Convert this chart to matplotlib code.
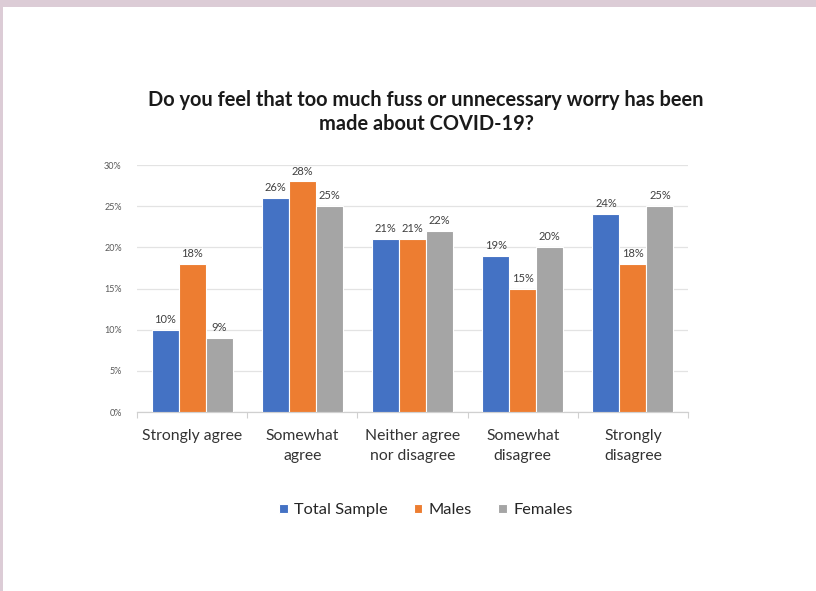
import matplotlib
matplotlib.use("Agg")
import matplotlib.pyplot as plt
from matplotlib.patches import Rectangle
import numpy as np

categories = ["Strongly agree", "Somewhat\nagree", "Neither agree\nnor disagree",
              "Somewhat\ndisagree", "Strongly\ndisagree"]
series_names = ["Total Sample", "Males", "Females"]
total_sample = [10, 26, 21, 19, 24]
males = [18, 28, 21, 15, 18]
females = [9, 25, 22, 20, 25]
y_ticks = [0, 5, 10, 15, 20, 25, 30]
title = "Do you feel that too much fuss or unnecessary worry has been\nmade about COVID-19?"

colors = ["#4472C4", "#ED7D31", "#A5A5A5"]
font = ["Lato", "DejaVu Sans"]
plt.rcParams["font.family"] = font

W, H = 816, 591
fig = plt.figure(figsize=(W / 100, H / 100), dpi=100)
fig.patch.set_facecolor("#dcccd6")
# white card on top of the tinted backdrop
card = Rectangle((3 / W, 0), 1, 1 - 7 / H, transform=fig.transFigure,
                 facecolor="white", edgecolor="none", zorder=-10)
fig.add_artist(card)

ax = fig.add_axes([137 / W, 1 - 412 / H, (688 - 137) / W, (412 - 165) / H])
ax.set_facecolor("none")
ax.set_zorder(5)

x = np.arange(len(categories))
bw = 0.245
for i, (vals, col) in enumerate(zip([total_sample, males, females], colors)):
    pos = x + (i - 1) * bw
    ax.bar(pos, vals, width=bw, color=col, edgecolor="white", linewidth=0.8,
           label=series_names[i], zorder=3)
    for p, v in zip(pos, vals):
        ax.text(p, v + 0.6, f"{v}%", ha="center", va="bottom", fontsize=8,
                color="#404040", zorder=4)

ax.set_xlim(-0.5, len(categories) - 0.5)
ax.set_ylim(0, 30)
ax.set_yticks(y_ticks)
ax.set_yticklabels([f"{t}%" for t in y_ticks], fontsize=6.5, color="#595959")
ax.yaxis.grid(True, color="#e3e3e3", linewidth=0.9, zorder=0)
ax.tick_params(axis="y", length=0, pad=11)

ax.set_xticks(x)
ax.set_xticklabels(categories, fontsize=11.3, color="#333333", linespacing=1.55)
ax.tick_params(axis="x", which="major", length=0, pad=12)
ax.set_xticks(np.arange(-0.5, len(categories)), minor=True)
ax.tick_params(axis="x", which="minor", length=4, color="#d0d0d0", width=0.8)

for s in ["top", "right", "left"]:
    ax.spines[s].set_visible(False)
ax.spines["bottom"].set_color("#d0d0d0")
ax.spines["bottom"].set_linewidth(0.9)

fig.text(426 / W, 1 - 112 / H, title, ha="center", va="center", fontsize=14.4,
         fontweight="bold", color="#1a1a1a", linespacing=1.3)

leg = fig.legend(loc="center", bbox_to_anchor=(426 / W, 1 - 510 / H), ncol=3,
                 frameon=False, fontsize=11.8, handlelength=0.5, handleheight=0.5,
                 handletextpad=0.4, columnspacing=1.6)
for t in leg.get_texts():
    t.set_color("#262626")

fig.savefig("out.png", dpi=100, facecolor=fig.get_facecolor())
